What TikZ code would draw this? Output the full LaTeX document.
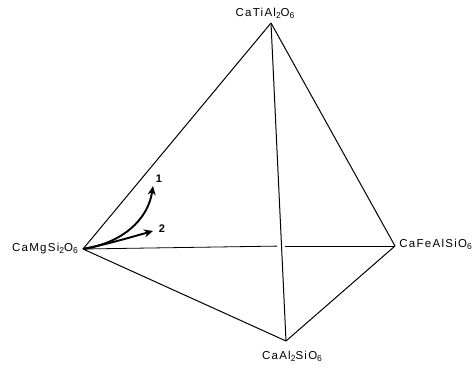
\documentclass[tikz,border=0pt]{standalone}
\usepackage{fontspec}
\setmainfont{Liberation Sans}[LetterSpace=11]
\usetikzlibrary{arrows.meta}
\newcommand{\sbs}[1]{\raisebox{-0.3ex}{\fontsize{8.5}{9}\selectfont #1}}
\begin{document}
\begin{tikzpicture}[x=1pt,y=-1pt,
  edge/.style={line width=1pt,black},
  lbl/.style={font=\fontsize{11.5}{13}\selectfont,inner sep=0pt},
  curvearrow/.style={line width=1.9pt,-{Stealth[length=9pt,width=8pt]}},
  num/.style={font=\fontsize{11}{12}\selectfont\bfseries,inner sep=0pt}]
\useasboundingbox (0,0) rectangle (474,367);
\coordinate (T) at (271,23);
\coordinate (L) at (83,249);
\coordinate (R) at (395,246);
\coordinate (B) at (286,341);
\coordinate (g1) at (277,246.1);
\coordinate (g2) at (285,246.0);
\draw[edge] (T) -- (L);
\draw[edge] (T) -- (R);
\draw[edge] (T) -- (B);
\draw[line width=0.8pt] (L) -- (g1);
\draw[line width=0.8pt] (g2) -- (R);
\draw[edge] (L) -- (B);
\draw[edge] (B) -- (R);
\node[lbl] (tl) at (265,13) {CaTiAl\sbs{2}O\sbs{6}};
\node[lbl,anchor=east] (ll) at (78,249) {CaMgSi\sbs{2}O\sbs{6}};
\node[lbl,anchor=east] (rl) at (472,244) {CaFeAlSiO\sbs{6}};
\node[lbl] (bl) at (292,356) {CaAl\sbs{2}SiO\sbs{6}};
\coordinate (a1) at (153,186);
\coordinate (a2) at (153,231);
\draw[curvearrow] (L) .. controls (122,243) and (148,220) .. (a1);
\draw[curvearrow] (L) .. controls (108,244) and (128,238) .. (a2);
\node[num] (n1) at (159,179) {1};
\node[num] (n2) at (162,229) {2};
\end{tikzpicture}
\end{document}
